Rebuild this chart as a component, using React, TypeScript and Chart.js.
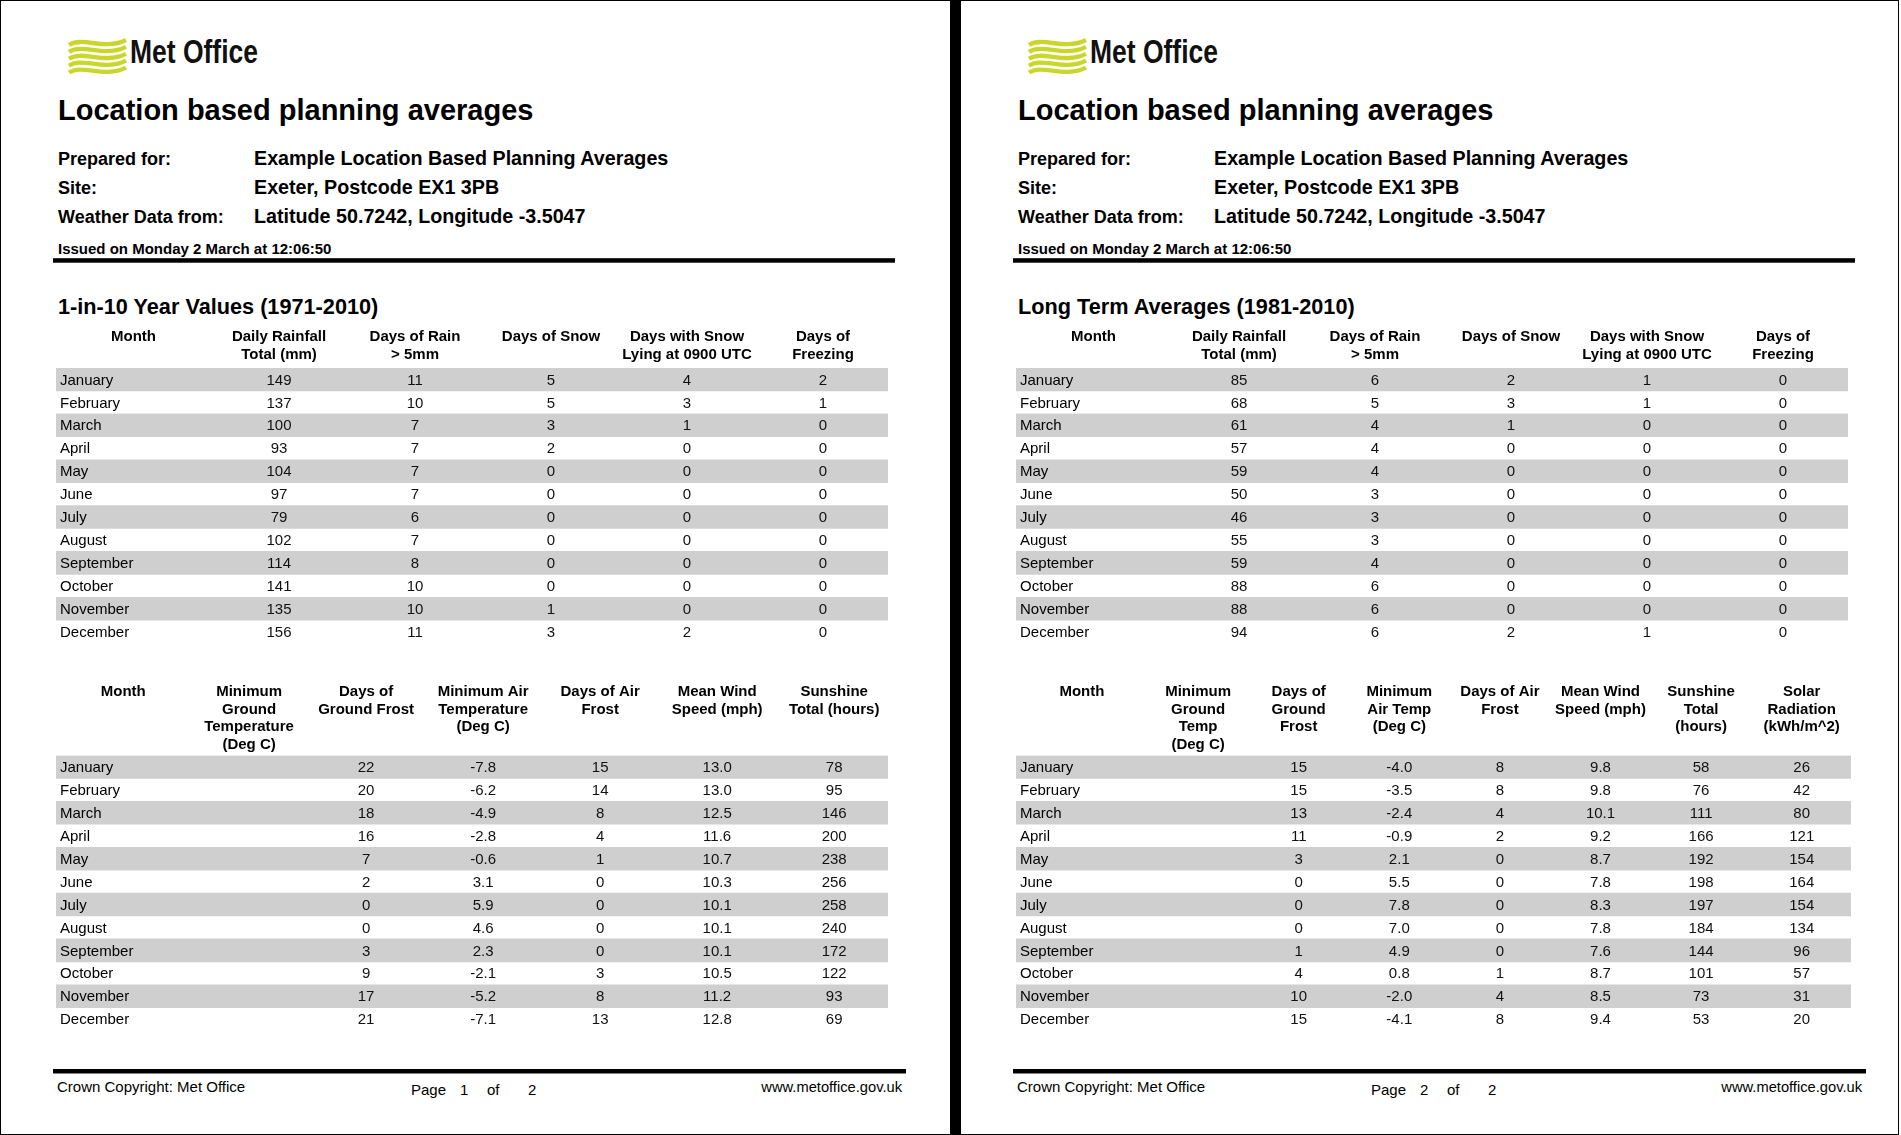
import React, { useEffect, useRef } from "react";
import { Chart, registerables } from "chart.js";

Chart.register(...registerables);

const FONT = "'Liberation Sans', Arial, Helvetica, sans-serif";
const NARROW = "'Liberation Sans Narrow', 'Arial Narrow', 'Liberation Sans', Arial, sans-serif";

// ---------- shared text ----------
const TITLE = "Location based planning averages";
const INFO_LABELS = ["Prepared for:", "Site:", "Weather Data from:"];
const INFO_VALUES = [
  "Example Location Based Planning Averages",
  "Exeter, Postcode EX1 3PB",
  "Latitude 50.7242, Longitude -3.5047",
];
const ISSUED = "Issued on Monday 2 March at 12:06:50";
const MONTHS = [
  "January", "February", "March", "April", "May", "June",
  "July", "August", "September", "October", "November", "December",
];

// ---------- page 1 : 1-in-10 Year Values (1971-2010) ----------
const P1_SECTION = "1-in-10 Year Values (1971-2010)";
const T1_HEADERS = [
  ["Month"],
  ["Daily Rainfall", "Total (mm)"],
  ["Days of Rain", "> 5mm"],
  ["Days of Snow"],
  ["Days with Snow", "Lying at 0900 UTC"],
  ["Days of", "Freezing"],
];
const P1_RAINFALL = [149, 137, 100, 93, 104, 97, 79, 102, 114, 141, 135, 156];
const P1_RAIN_DAYS = [11, 10, 7, 7, 7, 7, 6, 7, 8, 10, 10, 11];
const P1_SNOW_DAYS = [5, 5, 3, 2, 0, 0, 0, 0, 0, 0, 1, 3];
const P1_SNOW_LYING = [4, 3, 1, 0, 0, 0, 0, 0, 0, 0, 0, 2];
const P1_FREEZING = [2, 1, 0, 0, 0, 0, 0, 0, 0, 0, 0, 0];

const P1_T2_HEADERS = [
  ["Month"],
  ["Minimum", "Ground", "Temperature", "(Deg C)"],
  ["Days of", "Ground Frost"],
  ["Minimum Air", "Temperature", "(Deg C)"],
  ["Days of Air", "Frost"],
  ["Mean Wind", "Speed (mph)"],
  ["Sunshine", "Total (hours)"],
];
const P1_MIN_GROUND_TEMP = [null, null, null, null, null, null, null, null, null, null, null, null];
const P1_GROUND_FROST = [22, 20, 18, 16, 7, 2, 0, 0, 3, 9, 17, 21];
const P1_MIN_AIR_TEMP = [-7.8, -6.2, -4.9, -2.8, -0.6, 3.1, 5.9, 4.6, 2.3, -2.1, -5.2, -7.1];
const P1_AIR_FROST = [15, 14, 8, 4, 1, 0, 0, 0, 0, 3, 8, 13];
const P1_WIND = [13.0, 13.0, 12.5, 11.6, 10.7, 10.3, 10.1, 10.1, 10.1, 10.5, 11.2, 12.8];
const P1_SUNSHINE = [78, 95, 146, 200, 238, 256, 258, 240, 172, 122, 93, 69];

// ---------- page 2 : Long Term Averages (1981-2010) ----------
const P2_SECTION = "Long Term Averages (1981-2010)";
const P2_RAINFALL = [85, 68, 61, 57, 59, 50, 46, 55, 59, 88, 88, 94];
const P2_RAIN_DAYS = [6, 5, 4, 4, 4, 3, 3, 3, 4, 6, 6, 6];
const P2_SNOW_DAYS = [2, 3, 1, 0, 0, 0, 0, 0, 0, 0, 0, 2];
const P2_SNOW_LYING = [1, 1, 0, 0, 0, 0, 0, 0, 0, 0, 0, 1];
const P2_FREEZING = [0, 0, 0, 0, 0, 0, 0, 0, 0, 0, 0, 0];

const P2_T2_HEADERS = [
  ["Month"],
  ["Minimum", "Ground", "Temp", "(Deg C)"],
  ["Days of", "Ground", "Frost"],
  ["Minimum", "Air Temp", "(Deg C)"],
  ["Days of Air", "Frost"],
  ["Mean Wind", "Speed (mph)"],
  ["Sunshine", "Total", "(hours)"],
  ["Solar", "Radiation", "(kWh/m^2)"],
];
const P2_MIN_GROUND_TEMP = [null, null, null, null, null, null, null, null, null, null, null, null];
const P2_GROUND_FROST = [15, 15, 13, 11, 3, 0, 0, 0, 1, 4, 10, 15];
const P2_MIN_AIR_TEMP = [-4.0, -3.5, -2.4, -0.9, 2.1, 5.5, 7.8, 7.0, 4.9, 0.8, -2.0, -4.1];
const P2_AIR_FROST = [8, 8, 4, 2, 0, 0, 0, 0, 0, 1, 4, 8];
const P2_WIND = [9.8, 9.8, 10.1, 9.2, 8.7, 7.8, 8.3, 7.8, 7.6, 8.7, 8.5, 9.4];
const P2_SUNSHINE = [58, 76, 111, 166, 192, 198, 197, 184, 144, 101, 73, 53];
const P2_SOLAR = [26, 42, 80, 121, 154, 164, 154, 134, 96, 57, 31, 20];

// ---------- table chart ----------
type Column = { values: (number | null)[]; decimals: number };
type TableProps = {
  stripeLeft: number;
  stripeRight: number;
  headerTop: number;
  areaTop: number;
  rowHeight: number;
  xMin: number;
  xMax: number;
  headers: string[][];
  columns: Column[];
};

const LINE_H = 17.5;
const LABEL_PAD = 4;

function TableChart(p: TableProps) {
  const ref = useRef<HTMLCanvasElement>(null);
  const canvasLeft = p.stripeLeft - 2 * LABEL_PAD;
  const canvasWidth = Math.round(p.stripeRight - canvasLeft);
  const canvasTop = Math.floor(p.headerTop - 8);
  const areaBottom = p.areaTop + MONTHS.length * p.rowHeight;
  const canvasHeight = Math.ceil(areaBottom - canvasTop + 18);
  const highest = Math.max(...p.headers.map((h) => h.length)) * LINE_H;
  const relAreaTop = p.areaTop - canvasTop;
  const headerPad = relAreaTop - highest - (p.headerTop - canvasTop);
  const padTop = relAreaTop - highest - 2 * headerPad;
  const padBottom = canvasHeight - (areaBottom - canvasTop);

  useEffect(() => {
    const canvas = ref.current;
    if (!canvas) return;
    const tickValues = [p.xMin / 2, ...p.columns.map((_, i) => i + 0.5)];
    const cellPlugin = {
      id: "cellText",
      afterDatasetsDraw(chart: any) {
        const { ctx, scales } = chart;
        const x = scales.x;
        const y = scales.y;
        ctx.save();
        ctx.font = `15px ${FONT}`;
        ctx.fillStyle = "#111";
        ctx.textAlign = "center";
        ctx.textBaseline = "middle";
        p.columns.forEach((col, ci) => {
          const px = x.getPixelForValue(ci + 0.5);
          col.values.forEach((v, ri) => {
            if (v === null || v === undefined) return;
            ctx.fillText(v.toFixed(col.decimals), px, y.getPixelForValue(ri) + 1);
          });
        });
        ctx.restore();
      },
    };
    const chart = new Chart(canvas, {
      type: "bar",
      data: {
        labels: MONTHS,
        datasets: [
          {
            data: MONTHS.map((_, i) => (i % 2 === 0 ? [p.xMin, p.xMax] : null)) as any,
            backgroundColor: "#cfcfcf",
            borderWidth: 0,
            barPercentage: 1,
            categoryPercentage: 1,
          },
        ],
      },
      options: {
        indexAxis: "y",
        responsive: false,
        animation: false,
        devicePixelRatio: 1,
        layout: { padding: { top: padTop, bottom: padBottom, left: 0, right: 0 } },
        plugins: { legend: { display: false }, tooltip: { enabled: false } },
        scales: {
          x: {
            type: "linear",
            position: "top",
            min: p.xMin,
            max: p.xMax,
            grid: { display: false, drawTicks: false },
            border: { display: false },
            afterBuildTicks: (s: any) => {
              s.ticks = tickValues.map((v) => ({ value: v }));
            },
            ticks: {
              autoSkip: false,
              maxRotation: 0,
              minRotation: 0,
              crossAlign: "far",
              padding: headerPad,
              color: "#000",
              font: { family: FONT, size: 15, weight: "bold", lineHeight: `${LINE_H}px` },
              callback: (_v: any, i: number) => p.headers[i],
            },
          },
          y: {
            type: "category",
            position: "left",
            grid: { display: false, drawTicks: false },
            border: { display: false },
            ticks: {
              z: 1,
              autoSkip: false,
              mirror: true,
              padding: LABEL_PAD,
              labelOffset: 1,
              color: "#000",
              font: { family: FONT, size: 15 },
            },
          },
        },
      } as any,
      plugins: [cellPlugin],
    });
    return () => chart.destroy();
  }, []);

  return (
    <canvas
      ref={ref}
      width={canvasWidth}
      height={canvasHeight}
      style={{ position: "absolute", left: canvasLeft, top: canvasTop, width: canvasWidth, height: canvasHeight }}
    />
  );
}

// ---------- static page parts ----------
function Logo() {
  const bands = [0, 1, 2, 3, 4];
  return (
    <g>
      {bands.map((k) => {
        const y = 43 + k * 6.9;
        return (
          <path
            key={k}
            d={`M69 ${y + 2} C 82 ${y - 7}, 104 ${y + 8}, 126 ${y - 3}`}
            stroke="#c9d62c"
            strokeWidth={4.3}
            fill="none"
          />
        );
      })}
      <text
        x={130}
        y={63}
        fontFamily={NARROW}
        fontWeight="bold"
        fontSize={33}
        textLength={128}
        lengthAdjust="spacingAndGlyphs"
        fill="#111"
      >
        Met Office
      </text>
    </g>
  );
}

function PageStatic({ ox, section, page }: { ox: number; section: string; page: string }) {
  return (
    <g transform={`translate(${ox} 0)`} fontFamily={FONT} fill="#000">
      <Logo />
      <text x={58} y={120} fontSize={29} fontWeight="bold">{TITLE}</text>
      {INFO_LABELS.map((l, i) => (
        <text key={"l" + i} x={58} y={164.5 + i * 29} fontSize={18} fontWeight="bold">{l}</text>
      ))}
      {INFO_VALUES.map((v, i) => (
        <text key={"v" + i} x={254} y={164.5 + i * 29} fontSize={19.7} fontWeight="bold">{v}</text>
      ))}
      <text x={58} y={254} fontSize={15} fontWeight="bold">{ISSUED}</text>
      <rect x={53} y={258.2} width={842} height={4.5} />
      <text x={58} y={314} fontSize={21.7} fontWeight="bold">{section}</text>
      <rect x={53} y={1069} width={853} height={4.5} />
      <text x={57} y={1092} fontSize={15}>Crown Copyright: Met Office</text>
      <text x={411} y={1095} fontSize={15}>Page</text>
      <text x={460} y={1095} fontSize={15}>{page}</text>
      <text x={487} y={1095} fontSize={15}>of</text>
      <text x={528} y={1095} fontSize={15}>2</text>
      <text x={902} y={1092} fontSize={14.7} textAnchor="end">www.metoffice.gov.uk</text>
    </g>
  );
}

const ROW_H = 22.93;

export default function App() {
  return (
    <div
      style={{
        position: "absolute",
        left: 0,
        top: 0,
        width: 1901,
        height: 1135,
        background: "#fff",
        overflow: "hidden",
      }}
    >
      <svg width={1901} height={1135} style={{ position: "absolute", left: 0, top: 0 }}>
        <rect x={0} y={0} width={1901} height={1135} fill="#fff" />
        <rect x={0} y={0} width={1899} height={1} fill="#000" />
        <rect x={0} y={1134} width={1899} height={1} fill="#000" />
        <rect x={0} y={0} width={1} height={1135} fill="#000" />
        <rect x={1898} y={0} width={1} height={1135} fill="#000" />
        <rect x={950} y={0} width={11} height={1135} fill="#000" />
        <PageStatic ox={0} section={P1_SECTION} page="1" />
        <PageStatic ox={960} section={P2_SECTION} page="2" />
      </svg>

      <TableChart
        stripeLeft={56}
        stripeRight={888}
        headerTop={328.5}
        areaTop={368}
        rowHeight={ROW_H}
        xMin={-1.14}
        xMax={4.978}
        headers={T1_HEADERS}
        columns={[
          { values: P1_RAINFALL, decimals: 0 },
          { values: P1_RAIN_DAYS, decimals: 0 },
          { values: P1_SNOW_DAYS, decimals: 0 },
          { values: P1_SNOW_LYING, decimals: 0 },
          { values: P1_FREEZING, decimals: 0 },
        ]}
      />
      <TableChart
        stripeLeft={56}
        stripeRight={888}
        headerTop={683.5}
        areaTop={755.5}
        rowHeight={ROW_H}
        xMin={-1.15}
        xMax={5.96}
        headers={P1_T2_HEADERS}
        columns={[
          { values: P1_MIN_GROUND_TEMP, decimals: 1 },
          { values: P1_GROUND_FROST, decimals: 0 },
          { values: P1_MIN_AIR_TEMP, decimals: 1 },
          { values: P1_AIR_FROST, decimals: 0 },
          { values: P1_WIND, decimals: 1 },
          { values: P1_SUNSHINE, decimals: 0 },
        ]}
      />
      <TableChart
        stripeLeft={1016}
        stripeRight={1848}
        headerTop={328.5}
        areaTop={368}
        rowHeight={ROW_H}
        xMin={-1.14}
        xMax={4.978}
        headers={T1_HEADERS}
        columns={[
          { values: P2_RAINFALL, decimals: 0 },
          { values: P2_RAIN_DAYS, decimals: 0 },
          { values: P2_SNOW_DAYS, decimals: 0 },
          { values: P2_SNOW_LYING, decimals: 0 },
          { values: P2_FREEZING, decimals: 0 },
        ]}
      />
      <TableChart
        stripeLeft={1016}
        stripeRight={1851}
        headerTop={683.5}
        areaTop={755.5}
        rowHeight={ROW_H}
        xMin={-1.31}
        xMax={6.99}
        headers={P2_T2_HEADERS}
        columns={[
          { values: P2_MIN_GROUND_TEMP, decimals: 1 },
          { values: P2_GROUND_FROST, decimals: 0 },
          { values: P2_MIN_AIR_TEMP, decimals: 1 },
          { values: P2_AIR_FROST, decimals: 0 },
          { values: P2_WIND, decimals: 1 },
          { values: P2_SUNSHINE, decimals: 0 },
          { values: P2_SOLAR, decimals: 0 },
        ]}
      />
    </div>
  );
}
